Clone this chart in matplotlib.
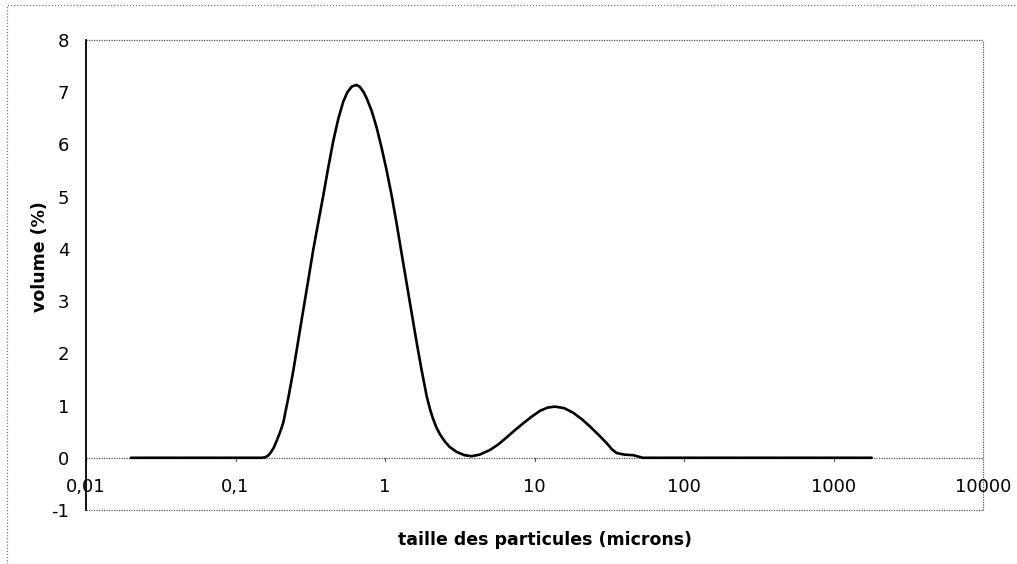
import matplotlib
matplotlib.use('Agg')
import matplotlib.pyplot as plt
from matplotlib.patches import Rectangle

plt.rcParams.update({
    'font.family': 'DejaVu Sans',
    'font.size': 13,
})

# Particle size distribution (volume %) against particle size in microns
taille = [0.02, 0.03, 0.05, 0.08, 0.10, 0.13, 0.15, 0.158, 0.165, 0.172,
          0.18, 0.187, 0.195, 0.202, 0.209, 0.226, 0.244, 0.263, 0.284,
          0.307, 0.331, 0.358, 0.387, 0.418, 0.451, 0.488, 0.526, 0.56,
          0.60, 0.647, 0.68, 0.72, 0.755, 0.815, 0.88, 0.95, 1.026, 1.11,
          1.197, 1.29, 1.396, 1.51, 1.63, 1.76, 1.90, 2.0, 2.1, 2.2, 2.33,
          2.5, 2.7, 3.02, 3.4, 3.8, 4.3, 5.04, 5.75, 6.51, 7.40, 8.41,
          9.60, 10.9, 12.2, 13.7, 15.8, 18.2, 20.7, 23.5, 26.8, 30.4,
          33.0, 35.5, 40.0, 45.7, 53.0, 70.0, 100.0, 200.0, 500.0, 1000.0,
          1800.0]
volume = [0.0, 0.0, 0.0, 0.0, 0.0, 0.0, 0.0, 0.01, 0.04, 0.10,
          0.19, 0.30, 0.43, 0.55, 0.68, 1.16, 1.68, 2.25, 2.83,
          3.41, 3.98, 4.51, 5.03, 5.57, 6.07, 6.50, 6.82, 7.00,
          7.11, 7.14, 7.10, 7.00, 6.88, 6.64, 6.32, 5.93, 5.50, 5.01,
          4.48, 3.92, 3.34, 2.76, 2.20, 1.67, 1.18, 0.93, 0.74, 0.59, 0.45,
          0.32, 0.21, 0.11, 0.05, 0.03, 0.06, 0.15, 0.26, 0.39, 0.53, 0.66,
          0.79, 0.90, 0.96, 0.98, 0.95, 0.86, 0.74, 0.60, 0.44, 0.28,
          0.16, 0.09, 0.06, 0.05, 0.0, 0.0, 0.0, 0.0, 0.0, 0.0,
          0.0]

x_ticks = [0.01, 0.1, 1, 10, 100, 1000, 10000]
x_labels = ['0,01', '0,1', '1', '10', '100', '1000', '10000']
y_ticks = [-1, 0, 1, 2, 3, 4, 5, 6, 7, 8]

fig = plt.figure(figsize=(10.17, 5.64), dpi=100)
ax = fig.add_axes([86 / 1017, 1 - 510 / 564, (983 - 86) / 1017, (510 - 40) / 564])

ax.plot(taille, volume, color='black', linewidth=1.9, solid_joinstyle='round',
        solid_capstyle='round', zorder=3)

ax.set_xscale('log')
ax.set_xlim(0.01, 10000)
ax.set_ylim(-1, 8)

# axis frame: solid value axis, dotted plot-area border
dot = dict(color='#555555', linewidth=0.9, linestyle=(0, (1, 1)))
for side in ['top', 'right', 'bottom']:
    ax.spines[side].set_visible(False)
ax.spines['left'].set_color('black')
ax.spines['left'].set_linewidth(1.3)
ax.plot([0, 1], [1, 1], transform=ax.transAxes, clip_on=False, **dot)
ax.plot([1, 1], [0, 1], transform=ax.transAxes, clip_on=False, **dot)
ax.plot([0, 1], [0, 0], transform=ax.transAxes, clip_on=False, **dot)
ax.axhline(0, zorder=2, **dot)

ax.set_yticks(y_ticks)
ax.set_yticklabels([str(v) for v in y_ticks])
ax.tick_params(axis='y', length=0, pad=12)

ax.set_xticks(x_ticks)
ax.set_xticklabels([])
ax.minorticks_off()
ax.tick_params(axis='x', length=0)
for xv, lab in zip(x_ticks, x_labels):
    ax.plot([xv, xv], [0, -0.07], color='#555555', linewidth=0.8, zorder=2)
    ax.text(xv, -0.55, lab, ha='center', va='center', fontsize=13)

fig.text(545 / 1017, 1 - 540 / 564, 'taille des particules (microns)',
         ha='center', va='center', fontsize=12.5, fontweight='bold')
fig.text(40 / 1017, 1 - 257 / 564, 'volume (%)', rotation=90,
         ha='center', va='center', fontsize=12.5, fontweight='bold')

# outer chart border
fig.patches.append(Rectangle((7 / 1017, -0.1), 1.2, 1 - 5 / 564 + 0.1,
                             transform=fig.transFigure, fill=False,
                             edgecolor='#777777', linewidth=0.9,
                             linestyle=(0, (1, 1.5))))

fig.savefig('out.png', dpi=100)
